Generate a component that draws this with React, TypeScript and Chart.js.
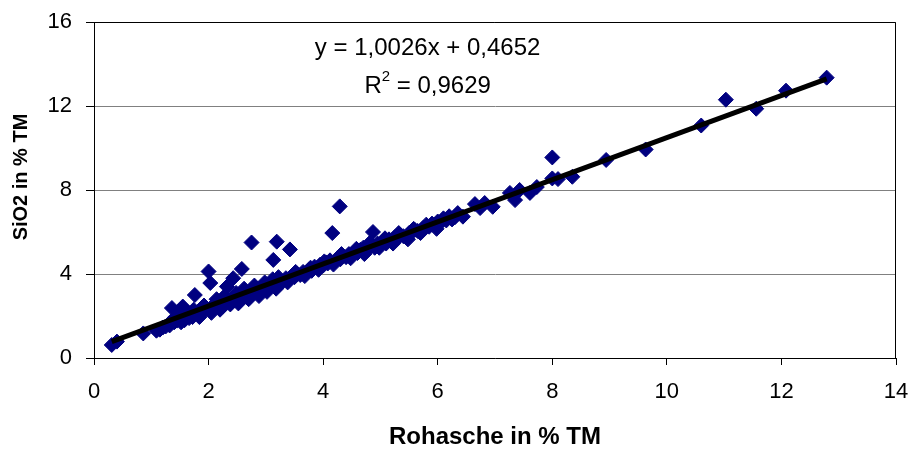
import React, { useEffect, useRef } from "react";
import { Chart, registerables } from "chart.js";

Chart.register(...registerables);

// Rohasche (x) in % TM
const rohasche = [
  0.31, 0.40, 0.86, 1.09, 1.15, 1.20, 1.25, 1.30, 1.32, 1.36, 1.40, 1.42, 1.45, 1.47, 1.50, 1.52, 1.55, 1.58, 1.60,
  1.62, 1.66, 1.68, 1.72, 1.74, 1.76, 1.78, 1.82, 1.84, 1.86, 1.90, 1.92, 1.95, 2.00, 2.02, 2.03, 2.05, 2.06, 2.10,
  2.12, 2.14, 2.18, 2.20, 2.22, 2.25, 2.28, 2.30, 2.32, 2.35, 2.38, 2.40, 2.43, 2.45, 2.48, 2.50, 2.52, 2.55, 2.58,
  2.60, 2.62, 2.63, 2.68, 2.70, 2.72, 2.75, 2.78, 2.80, 2.82, 2.86, 2.88, 2.90, 2.95, 2.98, 3.00, 3.02, 3.05, 3.08,
  3.12, 3.13, 3.15, 3.18, 3.19, 3.20, 3.22, 3.25, 3.30, 3.35, 3.38, 3.40, 3.42, 3.45, 3.50, 3.52, 3.55, 3.60, 3.65,
  3.68, 3.70, 3.75, 3.78, 3.80, 3.85, 3.90, 3.92, 3.95, 4.00, 4.02, 4.05, 4.08, 4.12, 4.16, 4.18, 4.20, 4.25, 4.29,
  4.30, 4.32, 4.35, 4.40, 4.45, 4.48, 4.50, 4.55, 4.58, 4.60, 4.65, 4.70, 4.72, 4.75, 4.80, 4.82, 4.85, 4.87, 4.90,
  4.95, 4.98, 5.00, 5.05, 5.08, 5.10, 5.15, 5.20, 5.22, 5.25, 5.30, 5.32, 5.35, 5.40, 5.45, 5.48, 5.50, 5.55, 5.58,
  5.60, 5.65, 5.70, 5.75, 5.80, 5.85, 5.90, 5.95, 5.98, 6.00, 6.05, 6.08, 6.10, 6.15, 6.20, 6.25, 6.30, 6.35, 6.44,
  6.65, 6.74, 6.82, 6.96, 7.26, 7.35, 7.43, 7.61, 7.73, 8.00, 8.00, 8.10, 8.35, 8.94, 9.63, 10.60, 11.03, 11.56,
  12.08, 12.79,
];

// SiO2 (y) in % TM
const sio2 = [
  0.62, 0.78, 1.17, 1.30, 1.35, 1.45, 1.50, 1.62, 1.55, 2.38, 1.70, 1.95, 1.78, 2.20, 1.85, 1.70, 2.45, 1.80, 2.25,
  2.00, 1.90, 2.05, 1.95, 2.30, 3.00, 2.15, 2.10, 1.95, 2.25, 2.20, 2.50, 2.35, 4.12, 2.30, 3.57, 2.15, 2.45, 2.40,
  2.55, 2.80, 2.50, 2.30, 2.60, 2.45, 2.95, 2.70, 3.40, 2.65, 2.55, 2.80, 3.80, 2.75, 3.10, 2.90, 2.60, 2.85, 4.24,
  3.05, 3.30, 2.95, 3.10, 2.80, 3.00, 5.50, 3.20, 3.45, 3.15, 3.30, 2.95, 3.25, 3.40, 3.60, 3.35, 3.15, 3.50, 3.45,
  3.75, 4.67, 3.60, 3.30, 5.54, 3.55, 3.85, 3.70, 3.65, 3.80, 3.60, 3.75, 5.17, 3.90, 3.85, 4.10, 4.00, 3.95, 4.10,
  3.90, 4.05, 4.20, 4.30, 4.15, 4.35, 4.30, 4.20, 4.45, 4.40, 4.60, 4.55, 4.50, 4.65, 5.95, 4.45, 4.60, 4.75, 7.22,
  4.70, 4.95, 4.85, 4.80, 4.95, 4.75, 4.90, 5.05, 5.20, 5.00, 5.15, 5.25, 4.95, 5.10, 5.30, 5.50, 5.35, 6.00, 5.25,
  5.45, 5.25, 5.40, 5.55, 5.70, 5.45, 5.65, 5.60, 5.45, 5.75, 5.70, 5.95, 5.85, 5.80, 5.75, 5.65, 5.95, 6.00, 6.15,
  6.10, 6.05, 5.95, 6.20, 6.35, 6.25, 6.40, 6.35, 6.15, 6.50, 6.45, 6.55, 6.65, 6.55, 6.75, 6.60, 6.70, 6.90, 6.73,
  7.33, 7.14, 7.38, 7.20, 7.86, 7.52, 8.00, 7.86, 8.14, 9.55, 8.55, 8.52, 8.63, 9.43, 9.93, 11.07, 12.30, 11.87,
  12.73, 13.35,
];

// Linear trend line shown on the chart
const trendSlope = 1.0026;
const trendIntercept = 0.4652;
const equationLabel = "y = 1,0026x + 0,4652";
const r2Label = "0,9629";

const xTitle = "Rohasche in % TM";
const yTitle = "SiO2 in % TM";
const xMin = 0;
const xMax = 14;
const xStep = 2;
const yMin = 0;
const yMax = 16;
const yStep = 4;

const FONT = '"Liberation Sans", Arial, sans-serif';

export default function App() {
  const canvasRef = useRef<HTMLCanvasElement | null>(null);

  useEffect(() => {
    if (!canvasRef.current) return;
    const points = rohasche.map((x, i) => ({ x, y: sio2[i] }));
    const tx0 = Math.min(...rohasche);
    const tx1 = Math.max(...rohasche);
    const trend = [
      { x: tx0, y: trendSlope * tx0 + trendIntercept },
      { x: tx1, y: trendSlope * tx1 + trendIntercept },
    ];

    const framePlugin = {
      id: "frame",
      beforeDatasetsDraw(chart: any) {
        const { ctx, chartArea: a } = chart;
        ctx.save();
        ctx.strokeStyle = "#000";
        ctx.lineWidth = 1;
        ctx.beginPath();
        ctx.moveTo(a.left, a.top + 0.5);
        ctx.lineTo(a.right - 0.5, a.top + 0.5);
        ctx.lineTo(a.right - 0.5, a.bottom);
        ctx.stroke();
        ctx.restore();
      },
    };

    const textPlugin = {
      id: "texts",
      afterDraw(chart: any) {
        const { ctx, chartArea: a } = chart;
        ctx.save();
        ctx.fillStyle = "#000";
        ctx.textBaseline = "middle";
        ctx.textAlign = "center";
        ctx.font = `24px ${FONT}`;
        const ex = a.left + (a.right - a.left) * 0.416;
        ctx.fillText(equationLabel, ex, 48);
        // R² = ...
        const p1 = "R";
        const p3 = " = " + r2Label;
        const w1 = ctx.measureText(p1).width;
        const w3 = ctx.measureText(p3).width;
        ctx.font = `15px ${FONT}`;
        const w2 = ctx.measureText("2").width;
        const total = w1 + w2 + w3;
        let sx = ex - total / 2;
        ctx.textAlign = "left";
        ctx.font = `24px ${FONT}`;
        ctx.fillText(p1, sx, 86);
        sx += w1;
        ctx.font = `15px ${FONT}`;
        ctx.fillText("2", sx, 77);
        sx += w2;
        ctx.font = `24px ${FONT}`;
        ctx.fillText(p3, sx, 86);

        // axis titles
        ctx.font = `bold 24px ${FONT}`;
        ctx.textAlign = "center";
        ctx.fillText(xTitle, (a.left + a.right) / 2, 437);
        ctx.font = `bold 20px ${FONT}`;
        ctx.translate(21, 177);
        ctx.rotate(-Math.PI / 2);
        ctx.fillText(yTitle, 0, 0);
        ctx.restore();
      },
    };

    const chart = new Chart(canvasRef.current, {
      type: "scatter",
      data: {
        datasets: [
          {
            type: "line",
            data: trend,
            borderColor: "#000",
            borderWidth: 5,
            pointRadius: 0,
            fill: false,
          } as any,
          {
            data: points,
            pointStyle: "rectRot",
            pointRadius: 7.5,
            pointHoverRadius: 7.5,
            backgroundColor: "#000080",
            borderColor: "#000080",
            borderWidth: 1,
          },
        ],
      },
      options: {
        animation: false,
        responsive: false,
        maintainAspectRatio: false,
        layout: { padding: { left: 0, top: 22, right: 17, bottom: 0 } },
        plugins: {
          legend: { display: false },
          tooltip: { enabled: false },
          title: { display: false },
        },
        scales: {
          x: {
            type: "linear",
            min: xMin,
            max: xMax,
            ticks: {
              stepSize: xStep,
              color: "#000",
              font: { family: FONT, size: 22 },
              padding: 14,
              maxRotation: 0,
            },
            grid: {
              drawOnChartArea: false,
              drawTicks: true,
              tickLength: 7,
              tickColor: "#000",
            },
            border: { display: true, color: "#000", width: 1 },
            afterFit: (scale: any) => {
              scale.height = 91;
              scale.paddingLeft = 0;
              scale.paddingRight = 0;
            },
          },
          y: {
            type: "linear",
            min: yMin,
            max: yMax,
            ticks: {
              stepSize: yStep,
              color: "#000",
              font: { family: FONT, size: 22 },
              padding: 14,
            },
            grid: {
              color: "#808080",
              lineWidth: 1,
              drawTicks: true,
              tickLength: 8,
              tickColor: "#000",
            },
            border: { display: true, color: "#000", width: 1 },
            afterFit: (scale: any) => {
              scale.width = 94;
              scale.paddingTop = 0;
              scale.paddingBottom = 0;
            },
          },
        },
      },
      plugins: [framePlugin, textPlugin],
    });
    return () => chart.destroy();
  }, []);

  return (
    <div style={{ position: "fixed", left: 0, top: 0, width: 913, height: 449, background: "#fff" }}>
      <canvas ref={canvasRef} width={913} height={449} style={{ width: 913, height: 449 }} />
    </div>
  );
}
